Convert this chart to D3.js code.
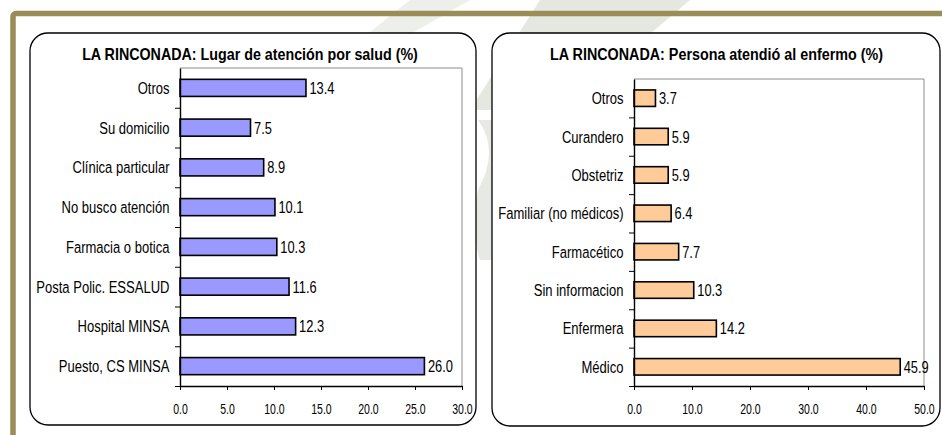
<!DOCTYPE html>
<html>
<head>
<meta charset="utf-8">
<script src="https://cdn.jsdelivr.net/npm/d3@7"></script>
<style>
  body { margin: 0; background: #fff; }
  svg { display: block; font-family: "Liberation Sans", Arial, sans-serif; }
</style>
</head>
<body>
<div id="chart"></div>
<script>
// data for left chart (top to bottom)
const lugarCats = ["Otros", "Su domicilio", "Clínica particular", "No busco atención",
  "Farmacia o botica", "Posta Polic. ESSALUD", "Hospital MINSA", "Puesto, CS MINSA"];
const lugarVals = [13.4, 7.5, 8.9, 10.1, 10.3, 11.6, 12.3, 26.0];
const lugarTicks = [0, 5, 10, 15, 20, 25, 30];

// data for right chart (top to bottom)
const personaCats = ["Otros", "Curandero", "Obstetriz", "Familiar (no médicos)",
  "Farmacético", "Sin informacion", "Enfermera", "Médico"];
const personaVals = [3.7, 5.9, 5.9, 6.4, 7.7, 10.3, 14.2, 45.9];
const personaTicks = [0, 10, 20, 30, 40, 50];

const W = 942, H = 435;
const svg = d3.select("#chart").append("svg")
  .attr("width", W)
  .attr("height", H);

// faint watermark behind everything
const wm = svg.append("g").attr("fill", "#e4e8e1");
wm.append("path").attr("d", "M540,0 L690,0 L560,110 L470,110 Z");
wm.append("path").attr("d", "M410,0 L470,0 L400,40 L360,40 Z").attr("opacity", 0.7);
wm.append("path").attr("d", "M478,120 Q500,150 478,190 Q470,230 480,260 L492,260 L492,120 Z").attr("opacity", 0.9);

// olive frame corner
svg.append("rect")
  .attr("x", 13).attr("y", 13.5)
  .attr("width", 1000).attr("height", 1000)
  .attr("rx", 3)
  .attr("fill", "none")
  .attr("stroke", "#9b8d57")
  .attr("stroke-width", 5.5);

// helper to squeeze text horizontally like the original
const squeeze = (sel, x, y, k) => sel
  .attr("x", null).attr("y", null)
  .attr("transform", `translate(${x},${y}) scale(${k},1)`);

const drawChart = (opt) => {
  const g = svg.append("g");

  // rounded panel
  g.append("rect")
    .attr("x", opt.panel[0]).attr("y", opt.panel[1])
    .attr("width", opt.panel[2] - opt.panel[0])
    .attr("height", opt.panel[3] - opt.panel[1])
    .attr("rx", 18)
    .attr("fill", "#fff")
    .attr("stroke", "#000")
    .attr("stroke-width", 1.3);

  // title, squeezed to the width it has in the original
  const title = g.append("text")
    .attr("text-anchor", "middle")
    .attr("font-size", 17)
    .attr("font-weight", "bold")
    .text(opt.title);
  const tw = title.node().getComputedTextLength();
  squeeze(title, opt.titleX, 59.5, opt.titleLen / tw);

  const x = d3.scaleLinear().domain(opt.domain).range([opt.left, opt.right]);
  const y = d3.scaleBand().domain(opt.cats).range([opt.top, opt.bottom]).padding(0);
  const yb = d3.scaleLinear().domain([0, opt.cats.length]).range([opt.top, opt.bottom]);

  // gray plot border (top, right)
  g.append("path")
    .attr("d", `M${opt.left},${opt.top}H${opt.right}V${opt.bottom}`)
    .attr("fill", "none")
    .attr("stroke", "#8c8c8c")
    .attr("stroke-width", 1);

  // bars
  const bh = y.bandwidth() * 0.43;
  g.selectAll(".bar")
    .data(opt.vals)
    .join("rect")
    .attr("class", "bar")
    .attr("x", x(0))
    .attr("y", (d, i) => y(opt.cats[i]) + (y.bandwidth() - bh) / 2)
    .attr("width", d => x(d) - x(0))
    .attr("height", bh)
    .attr("fill", opt.color)
    .attr("stroke", "#000")
    .attr("stroke-width", 1.6);

  // value labels
  g.selectAll(".val")
    .data(opt.vals)
    .join("text")
    .attr("class", "val")
    .attr("font-size", 16.5)
    .attr("dy", "0.36em")
    .text(d => d.toFixed(1))
    .each(function (d, i) {
      squeeze(d3.select(this), x(d) + 3.5, y(opt.cats[i]) + y.bandwidth() / 2, 0.78);
    });

  // category labels
  g.selectAll(".cat")
    .data(opt.cats)
    .join("text")
    .attr("class", "cat")
    .attr("font-size", 16.5)
    .attr("text-anchor", "end")
    .attr("dy", "0.36em")
    .text(d => d)
    .each(function (d) {
      squeeze(d3.select(this), opt.left - 10.5, y(d) + y.bandwidth() / 2, 0.79);
    });

  // y axis with ticks between categories
  const yAxis = g.append("g")
    .attr("transform", `translate(${opt.left},0)`)
    .call(d3.axisLeft(yb)
      .tickValues(d3.range(1, opt.cats.length + 1))
      .tickFormat("")
      .tickSize(5)
      .tickSizeOuter(0));
  yAxis.select(".domain").attr("stroke-width", 1.4);

  // x axis
  const xAxis = g.append("g")
    .attr("transform", `translate(0,${opt.bottom})`)
    .call(d3.axisBottom(x)
      .tickValues(opt.ticks)
      .tickFormat(d3.format(".1f"))
      .tickSize(4)
      .tickSizeOuter(0));
  xAxis.select(".domain").attr("stroke-width", 1.4);
  xAxis.selectAll("text")
    .attr("font-size", 14)
    .attr("font-family", "Liberation Sans, Arial, sans-serif")
    .attr("fill", "#000")
    .attr("dy", null)
    .each(function () {
      squeeze(d3.select(this), 0, 27.5, 0.75);
    });
};

drawChart({
  panel: [30, 33, 476, 425],
  title: "LA RINCONADA: Lugar de atención por salud (%)",
  titleX: 250, titleLen: 336,
  cats: lugarCats, vals: lugarVals, ticks: lugarTicks,
  domain: [0, 30],
  left: 180, right: 462, top: 68, bottom: 386,
  color: "#9999ff"
});

drawChart({
  panel: [492, 33, 940, 426],
  title: "LA RINCONADA: Persona atendió al enfermo (%)",
  titleX: 716.5, titleLen: 333,
  cats: personaCats, vals: personaVals, ticks: personaTicks,
  domain: [0, 50],
  left: 634, right: 924, top: 79, bottom: 386,
  color: "#ffcc99"
});
</script>
</body>
</html>
